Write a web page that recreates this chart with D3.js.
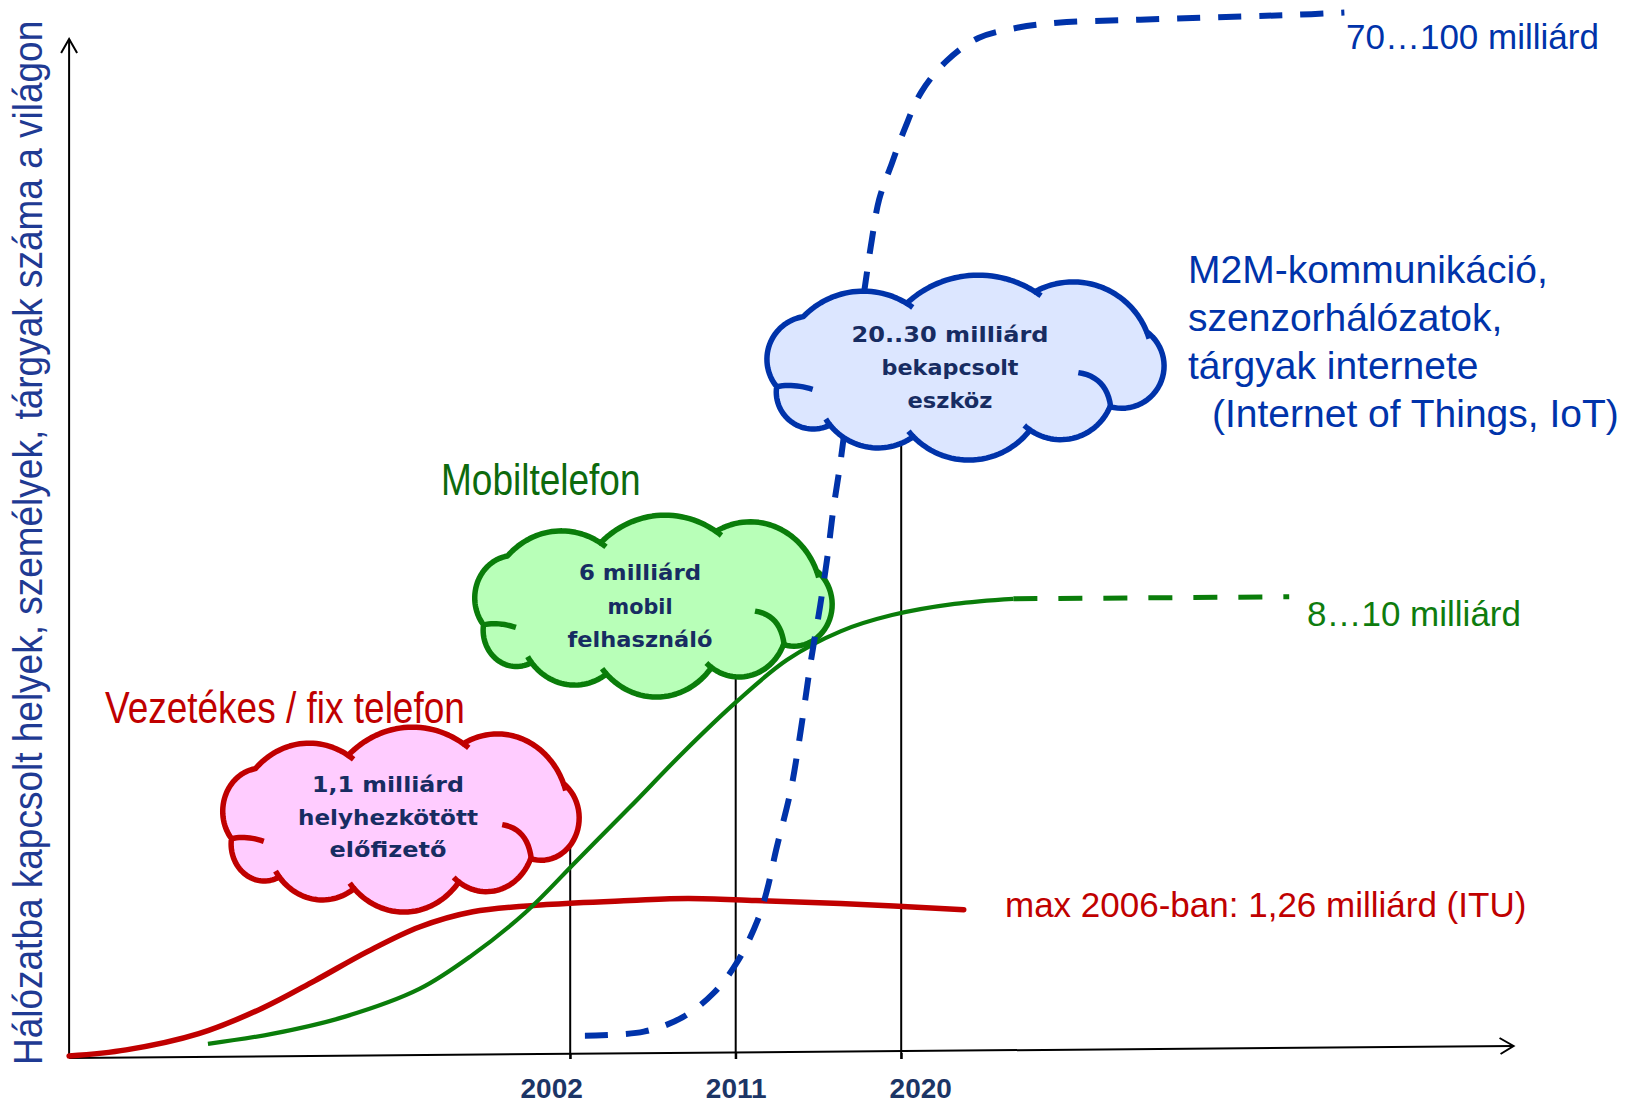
<!DOCTYPE html>
<html lang="hu">
<head>
<meta charset="utf-8">
<script src="https://cdn.jsdelivr.net/npm/d3@7"></script>
<style>
  html, body { margin: 0; padding: 0; background: #fff; }
  svg { display: block; }
</style>
</head>
<body>
<svg id="chart" width="1646" height="1106"></svg>
<script>
// ---- Data -------------------------------------------------------------
// Year ticks on the time axis
const tickYears = [2002, 2011, 2020];

// Fixed-line telephone subscriptions (relative height units, 0..100 = axis height)
const fixedYears  = [1974.75, 1977.85, 1981.8, 1985.25, 1988.1, 1991.0, 1993.8, 1996.7, 2000.7, 2005.25, 2008.4, 2012.1, 2016.7, 2023.4];
const fixedValues = [0, 0.6, 2.2, 4.7, 7.4, 10.3, 12.7, 14.2, 14.9, 15.3, 15.5, 15.3, 15.0, 14.4];

// Mobile phone users
const mobileYears  = [1982.3, 1985.85, 1989.8, 1993.8, 1996.65, 1999.55, 2002.4, 2005.25, 2008.1, 2011.0, 2013.8, 2016.7, 2019.5, 2022.9, 2026.1];
const mobileValues = [1.2, 2.2, 3.9, 6.6, 9.9, 14.1, 19.3, 24.5, 29.8, 34.8, 39.0, 41.8, 43.4, 44.5, 45.0];
// Mobile plateau forecast
const mobileForecastYears  = [2026.1, 2041.1];
const mobileForecastValues = [45.0, 45.2];

// Connected devices (M2M, sensor networks, Internet of Things) forecast
const iotYears  = [2002.8, 2006.0, 2008.1, 2009.8, 2011.1, 2012.2, 2012.7, 2013.2, 2014.0, 2014.5, 2015.1, 2015.6, 2016.0, 2016.3, 2016.7, 2017.3, 2018.0, 2018.4, 2018.8, 2019.5, 2020.2, 2021.1, 2022.5, 2024.2, 2026.3, 2028.5, 2033.0, 2041.7, 2044.1];
const iotValues = [2.0, 2.4, 3.8, 6.2, 9.3, 13.4, 16.3, 20.3, 26.2, 31.6, 39.0, 44.4, 49.3, 53.7, 58.5, 66.9, 75.4, 80.3, 84.3, 87.9, 91.3, 94.9, 98.0, 100.2, 101.2, 101.7, 102.0, 102.5, 102.7];

// Texts
const axisTitle   = "Hálózatba kapcsolt helyek, személyek, tárgyak száma a világon";
const fixedTitle  = "Vezetékes / fix telefon";
const mobileTitle = "Mobiltelefon";
const fixedNote   = "max 2006-ban: 1,26 milliárd (ITU)";
const mobileNote  = "8…10 milliárd";
const iotNote     = "70…100 milliárd";
const iotTitleLines   = ["M2M-kommunikáció,", "szenzorhálózatok,", "tárgyak internete", "(Internet of Things, IoT)"];
const fixedCloudLines  = ["1,1 milliárd", "helyhezkötött", "előfizető"];
const mobileCloudLines = ["6 milliárd", "mobil", "felhasználó"];
const iotCloudLines    = ["20..30 milliárd", "bekapcsolt", "eszköz"];

// ---- Colours ------------------------------------------------------------
const RED = "#C00000", GREEN = "#0A7D0A", BLUE = "#0033AA";
const NAVY = "#172C62";

// ---- Scales -------------------------------------------------------------
const svg = d3.select("#chart");
const x = d3.scaleLinear().domain([2002, 2020]).range([570.2, 901.2]);
const y = d3.scaleLinear().domain([0, 100]).range([1056, 40]);

const zip = (xs, ys) => xs.map((v, i) => [v, ys[i]]);
const line = d3.line().x(d => x(d[0])).y(d => y(d[1])).curve(d3.curveCatmullRom.alpha(0.5));

// ---- Axes ---------------------------------------------------------------
const x0 = x(1974.75), x1 = x(2053.3);
const axisY0 = 1058, axisY1 = 1046;
const axes = svg.append("g").attr("fill", "none").attr("stroke", "#000").attr("stroke-width", 2);
axes.append("line").attr("x1", x0).attr("y1", axisY0).attr("x2", x0).attr("y2", 39);
axes.append("path").attr("d", `M${x0 - 8},53 L${x0},39 L${x0 + 8},53`);
axes.append("line").attr("x1", x0).attr("y1", axisY0).attr("x2", x1).attr("y2", axisY1);
axes.append("path").attr("d", `M${x1 - 14},${axisY1 - 8} L${x1},${axisY1} L${x1 - 13},${axisY1 + 8}`);

// Cloud callout geometry (template outline, scaled into each box)
const CLOUD_J = [[80,380],[160,170],[470,130],[855,95],[1190,215],[1080,440],[840,510],[490,530],[240,495]];
const CLOUD_S = [65, 55, 66, 80, 105, 60, 80, 50, 60];
const CLOUD_STUBS = [2, 3, 4, 6, 7, 8];
const CLOUD_CREASES = [
  [[80,380],[130,370],[188,388]],
  [[985,338],[1070,350],[1082,440]]
];

function cloudShapes(c) {
  const sx = c.w / 1200, sy = c.h / 555;
  const P = ([tx, ty]) => [c.x0 + (tx - 45) * sx, c.y0 + (ty - 45) * sy];
  const n = CLOUD_J.length;
  const arcs = [], outline = [];
  for (let i = 0; i < n; i++) {
    const a = CLOUD_J[i], b = CLOUD_J[(i + 1) % n], s = CLOUD_S[i];
    const dx = b[0] - a[0], dy = b[1] - a[1], d = Math.hypot(dx, dy);
    const nx = dy / d, ny = -dx / d;
    const r = (s * s + d * d / 4) / (2 * s);
    const cx = (a[0] + b[0]) / 2 + nx * (s - r), cy = (a[1] + b[1]) / 2 + ny * (s - r);
    const a0 = Math.atan2(a[1] - cy, a[0] - cx);
    let a1 = Math.atan2(b[1] - cy, b[0] - cx);
    while (a1 <= a0) a1 += 2 * Math.PI;
    arcs.push({ cx, cy, r, a0, a1 });
    for (let k = 0; k < 30; k++) {
      const t = a0 + (a1 - a0) * k / 30;
      outline.push(P([cx + r * Math.cos(t), cy + r * Math.sin(t)]));
    }
  }
  const marks = [];
  CLOUD_STUBS.forEach(j => {
    const arc = arcs[(j - 1 + n) % n];
    const pts = [];
    for (let k = 0; k <= 6; k++) {
      const t = arc.a1 + (22 / arc.r) * k / 6;
      pts.push(P([arc.cx + arc.r * Math.cos(t), arc.cy + arc.r * Math.sin(t)]));
    }
    marks.push(pts);
  });
  CLOUD_CREASES.forEach(([p0, p1, p2]) => {
    const pts = [];
    for (let k = 0; k <= 12; k++) {
      const t = k / 12, u = 1 - t;
      pts.push(P([u * u * p0[0] + 2 * u * t * p1[0] + t * t * p2[0],
                  u * u * p0[1] + 2 * u * t * p1[1] + t * t * p2[1]]));
    }
    marks.push(pts);
  });
  return { outline, marks };
}

const clouds = [
  { year: tickYears[0], lines: fixedCloudLines,  x0: 221, y0: 727, w: 359, h: 185, fill: "#FFCCFF", stroke: RED,   tx: 388, base: 792, gap: 32.5, widths: [152, 180, 117] },
  { year: tickYears[1], lines: mobileCloudLines, x0: 473, y0: 515, w: 360, h: 182, fill: "#B8FFB8", stroke: GREEN, tx: 640, base: 580, gap: 33.5, widths: [122, 65, 145] },
  { year: tickYears[2], lines: iotCloudLines,    x0: 765, y0: 275, w: 400, h: 185, fill: "#DCE6FF", stroke: BLUE,  tx: 950, base: 342, gap: 33,   widths: [197, 137, 85] }
];

// Callout lines from each cloud down to its year on the axis
svg.append("g").selectAll("line").data(clouds).join("line")
  .attr("x1", d => x(d.year)).attr("x2", d => x(d.year))
  .attr("y1", d => d.y0 + d.h / 2).attr("y2", 1059)
  .attr("stroke", "#000").attr("stroke-width", 2);

// Tick labels
const xAxis = d3.axisBottom(x).tickValues(tickYears).tickSize(6).tickFormat(d3.format("d"));
const gx = svg.append("g").attr("transform", "translate(0,1053)").call(xAxis);
gx.select(".domain").remove();
gx.selectAll(".tick line").attr("stroke", "#000").attr("stroke-width", 2);
gx.selectAll(".tick text")
  .attr("y", 45).attr("dy", 0)
  .attr("x", d => (x(tickYears[1]) - x(d)) * -0.115)
  .attr("fill", "#1C3566")
  .style("font", "bold 28px 'Liberation Sans', Arial, sans-serif");

// ---- Series --------------------------------------------------------------
svg.append("path").attr("d", line(zip(fixedYears, fixedValues)))
  .attr("fill", "none").attr("stroke", RED).attr("stroke-width", 5.5).attr("stroke-linecap", "round");
svg.append("path").attr("d", line(zip(mobileYears, mobileValues)))
  .attr("fill", "none").attr("stroke", GREEN).attr("stroke-width", 4.2);
svg.append("path").attr("d", line(zip(mobileForecastYears, mobileForecastValues)))
  .attr("fill", "none").attr("stroke", GREEN).attr("stroke-width", 5).attr("stroke-dasharray", "24 21");

function drawCloud(c) {
  const g = svg.append("g");
  const shp = cloudShapes(c);
  g.append("path").attr("d", d3.line()(shp.outline) + "Z")
    .attr("fill", c.fill).attr("stroke", c.stroke).attr("stroke-width", 5.5).attr("stroke-linejoin", "round");
  g.selectAll("path.mark").data(shp.marks).join("path").attr("class", "mark")
    .attr("d", d => d3.line()(d))
    .attr("fill", "none").attr("stroke", c.stroke).attr("stroke-width", 5.5).attr("stroke-linecap", "butt");
  g.selectAll("text").data(c.lines).join("text")
    .attr("x", c.tx).attr("y", (d, i) => c.base + i * c.gap)
    .attr("text-anchor", "middle")
    .attr("textLength", (d, i) => c.widths[i]).attr("lengthAdjust", "spacingAndGlyphs")
    .attr("fill", NAVY)
    .style("font", "bold 22px 'DejaVu Sans', sans-serif")
    .text(d => d);
}
drawCloud(clouds[0]);
drawCloud(clouds[1]);

svg.append("path").attr("d", line(zip(iotYears, iotValues)))
  .attr("fill", "none").attr("stroke", BLUE).attr("stroke-width", 6).attr("stroke-dasharray", "23 18");

drawCloud(clouds[2]);

// ---- Labels -------------------------------------------------------------
const regular = "'Liberation Sans', Arial, sans-serif";

// Condensed-looking titles: regular face stretched vertically
svg.append("text")
  .attr("transform", "translate(42,1065) rotate(-90) scale(1,1.1)")
  .attr("fill", "#1F3A93").style("font", `37px ${regular}`)
  .text(axisTitle);

svg.append("text")
  .attr("transform", "translate(105,723) scale(1,1.19)")
  .attr("fill", RED).style("font", `37px ${regular}`).text(fixedTitle);

svg.append("text")
  .attr("transform", "translate(441,495) scale(1,1.19)")
  .attr("fill", "#0D6A0D").style("font", `37px ${regular}`).text(mobileTitle);

svg.append("text").attr("x", 1005).attr("y", 917)
  .attr("fill", RED).style("font", `35px ${regular}`).text(fixedNote);

svg.append("text").attr("x", 1307).attr("y", 626)
  .attr("fill", "#0E7C0E").style("font", `35px ${regular}`).text(mobileNote);

svg.append("text").attr("x", 1346).attr("y", 49)
  .attr("fill", BLUE).style("font", `35px ${regular}`).text(iotNote);

svg.append("g").selectAll("text").data(iotTitleLines).join("text")
  .attr("x", (d, i) => i === 3 ? 1212 : 1188)
  .attr("y", (d, i) => 283 + i * 48)
  .attr("fill", BLUE).style("font", `39px ${regular}`)
  .text(d => d);
</script>
</body>
</html>
